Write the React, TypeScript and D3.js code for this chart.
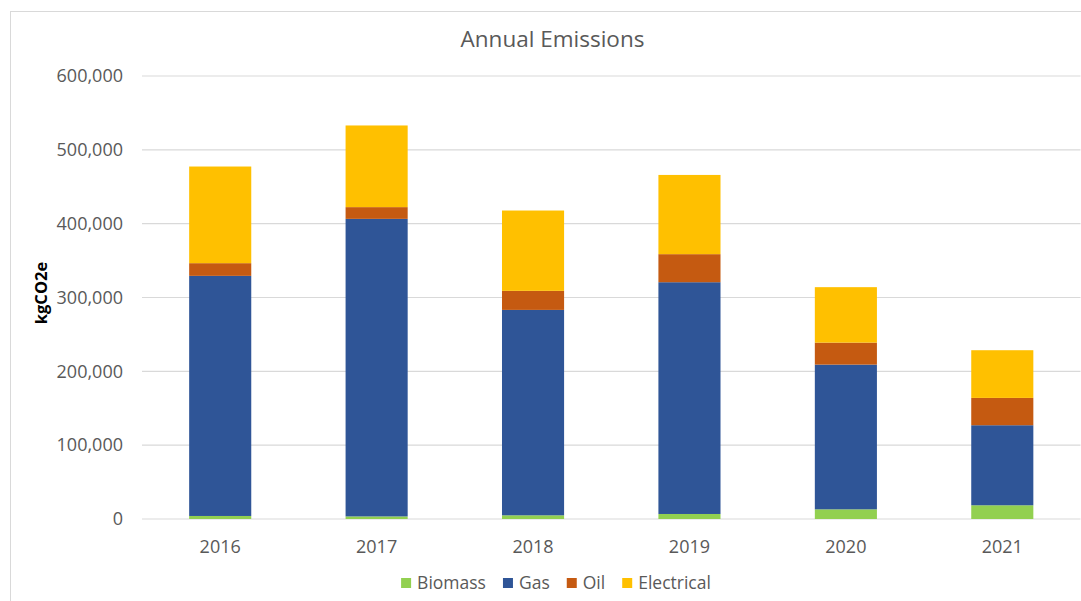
import * as d3 from "d3";
import React, { useRef, useEffect } from "react";

// values (kgCO2e)
const years = ["2016", "2017", "2018", "2019", "2020", "2021"];
const biomass = [4100, 3500, 5000, 6800, 13100, 18600];
const gas = [325200, 403000, 278200, 313900, 196000, 108400];
const oil = [17200, 15900, 25800, 38000, 29800, 37000];
const electrical = [130900, 110600, 108800, 107300, 75100, 64600];

const seriesNames = ["Biomass", "Gas", "Oil", "Electrical"];
const seriesColors = ["#92D050", "#2F5597", "#C55A11", "#FFC000"];
const yTicks = [0, 100000, 200000, 300000, 400000, 500000, 600000];

export default function App() {
  const svgRef = useRef(null);

  useEffect(() => {
    const width = 1081;
    const height = 601;
    const left = 142;
    const right = 1080.5;
    const top = 76;
    const bottom = 519;
    const font = "'Open Sans', sans-serif";
    const grey = "#595959";

    const svg = d3.select(svgRef.current);
    svg.selectAll("*").remove();

    // outer chart border
    svg
      .append("rect")
      .attr("x", 10.5)
      .attr("y", 11.5)
      .attr("width", width + 20)
      .attr("height", height + 20)
      .attr("fill", "white")
      .attr("stroke", "#D9D9D9")
      .attr("stroke-width", 1);

    const rows = years.map((year, i) => ({
      year,
      Biomass: biomass[i],
      Gas: gas[i],
      Oil: oil[i],
      Electrical: electrical[i],
    }));

    const x = d3
      .scaleBand()
      .domain(years)
      .range([left, right])
      .paddingInner(0.603)
      .paddingOuter(0.3015);
    const y = d3.scaleLinear().domain([0, 600000]).range([bottom, top]);

    // gridlines
    svg
      .append("g")
      .selectAll("line")
      .data(yTicks)
      .join("line")
      .attr("x1", left)
      .attr("x2", right)
      .attr("y1", (d) => y(d))
      .attr("y2", (d) => y(d))
      .attr("stroke", "#D9D9D9")
      .attr("stroke-width", 1.2);

    // y tick labels
    svg
      .append("g")
      .selectAll("text")
      .data(yTicks)
      .join("text")
      .attr("x", 123)
      .attr("y", (d) => y(d))
      .attr("dy", "0.35em")
      .attr("text-anchor", "end")
      .attr("font-family", font)
      .attr("font-size", 18)
      .attr("fill", grey)
      .text((d) => d3.format(",")(d));

    // stacked bars
    const stacked = d3.stack().keys(seriesNames)(rows);
    svg
      .append("g")
      .selectAll("g")
      .data(stacked)
      .join("g")
      .attr("fill", (d, i) => seriesColors[i])
      .selectAll("rect")
      .data((d) => d)
      .join("rect")
      .attr("x", (d) => x(d.data.year))
      .attr("width", x.bandwidth())
      .attr("y", (d) => y(d[1]))
      .attr("height", (d) => y(d[0]) - y(d[1]));

    // x labels
    svg
      .append("g")
      .selectAll("text")
      .data(years)
      .join("text")
      .attr("x", (d) => x(d) + x.bandwidth() / 2)
      .attr("y", 547)
      .attr("dy", "0.35em")
      .attr("text-anchor", "middle")
      .attr("font-family", font)
      .attr("font-size", 18)
      .attr("fill", grey)
      .text((d) => d);

    // title
    svg
      .append("text")
      .attr("x", 552.5)
      .attr("y", 39)
      .attr("dy", "0.35em")
      .attr("text-anchor", "middle")
      .attr("font-family", font)
      .attr("font-size", 22.5)
      .attr("fill", grey)
      .text("Annual Emissions");

    // y axis title
    svg
      .append("text")
      .attr("transform", "translate(41,293) rotate(-90)")
      .attr("dy", "0.35em")
      .attr("text-anchor", "middle")
      .attr("font-family", font)
      .attr("font-size", 16.5)
      .attr("font-weight", "bold")
      .attr("fill", "black")
      .text("kgCO2e");

    // legend, laid out from measured text widths and centred
    const legend = svg.append("g");
    const items = legend
      .selectAll("g")
      .data(seriesNames)
      .join("g");
    items
      .append("rect")
      .attr("width", 10)
      .attr("height", 10)
      .attr("y", -5)
      .attr("fill", (d, i) => seriesColors[i]);
    const labels = items
      .append("text")
      .attr("x", 16)
      .attr("dy", "0.35em")
      .attr("font-family", font)
      .attr("font-size", 17.5)
      .attr("fill", grey)
      .text((d) => d);
    let pos = 0;
    const offsets = [];
    labels.each(function () {
      offsets.push(pos);
      pos += 16 + this.getComputedTextLength() + 17;
    });
    const total = pos - 17;
    const start = 556 - total / 2;
    items.attr("transform", (d, i) => `translate(${start + offsets[i]},583)`);
  }, []);

  return (
    <svg
      ref={svgRef}
      width={1081}
      height={601}
      style={{ position: "absolute", left: 0, top: 0 }}
    ></svg>
  );
}
